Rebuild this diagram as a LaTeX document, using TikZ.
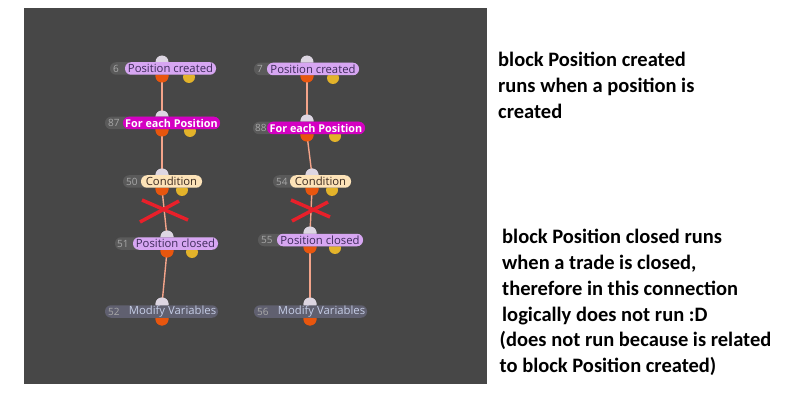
\documentclass[tikz,border=0pt]{standalone}
\usepackage{fontspec}
\setmainfont{Open Sans}
\newfontfamily\notefont{Carlito}
\definecolor{bg}{HTML}{474747}
\definecolor{pillgray}{HTML}{5A5A5A}
\definecolor{numgray}{HTML}{A8A8A8}
\definecolor{lav}{HTML}{D7A6F2}
\definecolor{lavtext}{HTML}{3D2A5A}
\definecolor{mag}{HTML}{D400C2}
\definecolor{peach}{HTML}{FDE3B8}
\definecolor{peachtext}{HTML}{3B2A20}
\definecolor{modpill}{HTML}{606070}
\definecolor{modtext}{HTML}{C5CDE6}
\definecolor{incol}{HTML}{DDD6E2}
\definecolor{outcol}{HTML}{E8560E}
\definecolor{yelcol}{HTML}{E3B32A}
\definecolor{wire}{HTML}{F4A48A}
\definecolor{xred}{HTML}{E8202A}
\tikzset{
  pill/.style={rectangle, rounded corners=6pt, minimum height=12.5pt, inner sep=0pt, outer sep=0pt},
  darkpill/.style={pill, fill=pillgray},
  lavpill/.style={pill, fill=lav, text=lavtext, font=\fontsize{11.3}{12}\selectfont},
  magpill/.style={pill, fill=mag, text=white, font=\bfseries\fontsize{10.8}{12}\selectfont},
  peachpill/.style={pill, fill=peach, text=peachtext, font=\fontsize{11.3}{12}\selectfont},
  modpillst/.style={pill, fill=modpill, text=modtext, font=\fontsize{11.3}{12}\selectfont},
  num/.style={text=numgray, font=\fontsize{10}{11}\selectfont, inner sep=0pt, anchor=west},
  incirc/.style={circle, fill=incol, minimum size=13pt, inner sep=0pt},
  outcirc/.style={circle, fill=outcol, minimum size=13pt, inner sep=0pt},
  yelcirc/.style={circle, fill=yelcol, minimum size=12pt, inner sep=0pt},
  wireline/.style={draw=wire, line width=1.4pt},
  xmark/.style={draw=xred, line width=3.5pt},
  note/.style={font=\notefont\bfseries\fontsize{20.5}{25.8}\selectfont, align=left, anchor=north west, inner sep=0pt, text=black}
}
\begin{document}
\begin{tikzpicture}[x=1pt,y=-1pt]
\useasboundingbox (0,0) rectangle (801,409);
\fill[bg] (24,8) rectangle (487,384);

% ---- circles (behind pills), left column
\node[incirc] (a1i) at (162,62) {};
\node[outcirc] (a1o) at (162,76) {};
\node[yelcirc] (a1y) at (189,77) {};
\node[incirc] (a2i) at (162,117) {};
\node[outcirc] (a2o) at (162,130) {};
\node[yelcirc] (a2y) at (190,131) {};
\node[incirc] (a3i) at (162,175) {};
\node[outcirc] (a3o) at (162,189) {};
\node[yelcirc] (a3y) at (182,190) {};
\node[incirc] (a4i) at (167,237) {};
\node[outcirc] (a4o) at (167,251) {};
\node[yelcirc] (a4y) at (192,252) {};
\node[incirc] (a5i) at (162,304) {};
\node[outcirc] (a5o) at (162,319) {};
% right column
\node[incirc] (b1i) at (307,62) {};
\node[outcirc] (b1o) at (307,76) {};
\node[yelcirc] (b1y) at (333,78) {};
\node[incirc] (b2i) at (307,121) {};
\node[outcirc] (b2o) at (307,135) {};
\node[yelcirc] (b2y) at (335,136) {};
\node[incirc] (b3i) at (312,175) {};
\node[outcirc] (b3o) at (312,189) {};
\node[yelcirc] (b3y) at (332,190) {};
\node[incirc] (b4i) at (310,233) {};
\node[outcirc] (b4o) at (310,247) {};
\node[yelcirc] (b4y) at (335,248) {};
\node[incirc] (b5i) at (310,304) {};
\node[outcirc] (b5o) at (310,319) {};

% ---- wires
\draw[wireline] (a1o.center) -- (a2i.center);
\draw[wireline] (a2o.center) -- (a3i.center);
\draw[wireline] (a3o.center) -- (a4i.center);
\draw[wireline] (a4o.center) -- (a5i.center);
\draw[wireline] (b1o.center) -- (b2i.center);
\draw[wireline] (b2o.center) -- (b3i.center);
\draw[wireline] (b3o.center) -- (b4i.center);
\draw[wireline] (b4o.center) -- (b5i.center);
% redraw circles over wires
\foreach \n in {a1o,a2o,a3o,a4o,a5o,b1o,b2o,b3o,b4o,b5o} \fill[outcol] (\n.center) circle (6.5pt);
\foreach \n in {a2i,a3i,a4i,a5i,b2i,b3i,b4i,b5i} \fill[incol] (\n.center) circle (6.5pt);

% ---- blocks, left column
\node[darkpill, minimum width=106pt] (a1) at (163,68.5) {};
\node[lavpill, minimum width=91pt] (a1t) at (170.5,68.5) {Position created};
\node[num] (a1n) at (113,68.5) {6};
\node[darkpill, minimum width=115pt] (a2) at (162.5,123) {};
\node[magpill, minimum width=97pt] (a2t) at (171.5,123) {For each Position};
\node[num] (a2n) at (108,123) {87};
\node[darkpill, minimum width=79pt] (a3) at (162.5,181.5) {};
\node[peachpill, minimum width=61pt] (a3t) at (171.5,181.5) {Condition};
\node[num] (a3n) at (126,181.5) {50};
\node[darkpill, minimum width=103pt] (a4) at (166.5,243.5) {};
\node[lavpill, minimum width=85pt] (a4t) at (175.5,243.5) {Position closed};
\node[num] (a4n) at (117,243.5) {51};
\node[modpillst, minimum width=113pt] (a5) at (161.5,311.5) {\hspace*{22pt}Modify Variables};
\node[num] (a5n) at (108,311.5) {52};
% right column
\node[darkpill, minimum width=105pt] (b1) at (306.5,69) {};
\node[lavpill, minimum width=92pt] (b1t) at (313,69) {Position created};
\node[num] (b1n) at (257,69) {7};
\node[darkpill, minimum width=112pt] (b2) at (309,128) {};
\node[magpill, minimum width=98pt] (b2t) at (316,128) {For each Position};
\node[num] (b2n) at (255,128) {88};
\node[darkpill, minimum width=78pt] (b3) at (312,181.5) {};
\node[peachpill, minimum width=61pt] (b3t) at (320.5,181.5) {Condition};
\node[num] (b3n) at (276,181.5) {54};
\node[darkpill, minimum width=105pt] (b4) at (310.5,240) {};
\node[lavpill, minimum width=86pt] (b4t) at (320,240) {Position closed};
\node[num] (b4n) at (261,240) {55};
\node[modpillst, minimum width=113pt] (b5) at (310.5,311.5) {\hspace*{22pt}Modify Variables};
\node[num] (b5n) at (257,311.5) {56};

% ---- red crosses
\draw[xmark] (142,200) -- (188,220);
\draw[xmark] (179,201) -- (140,222);
\draw[xmark] (291,200) -- (330,217);
\draw[xmark] (328,202) -- (292,221);

% ---- notes
\node[note] (n1) at (498,52) {block Position created\\runs when a position is\\created};
\node[note] (n2) at (502,229) {block Position closed runs\\when a trade is closed,\\therefore in this connection\\logically does not run :D\\\kern-2.5pt(does not run because is related\\\kern-2.5pt to block Position created)};
\end{tikzpicture}
\end{document}
